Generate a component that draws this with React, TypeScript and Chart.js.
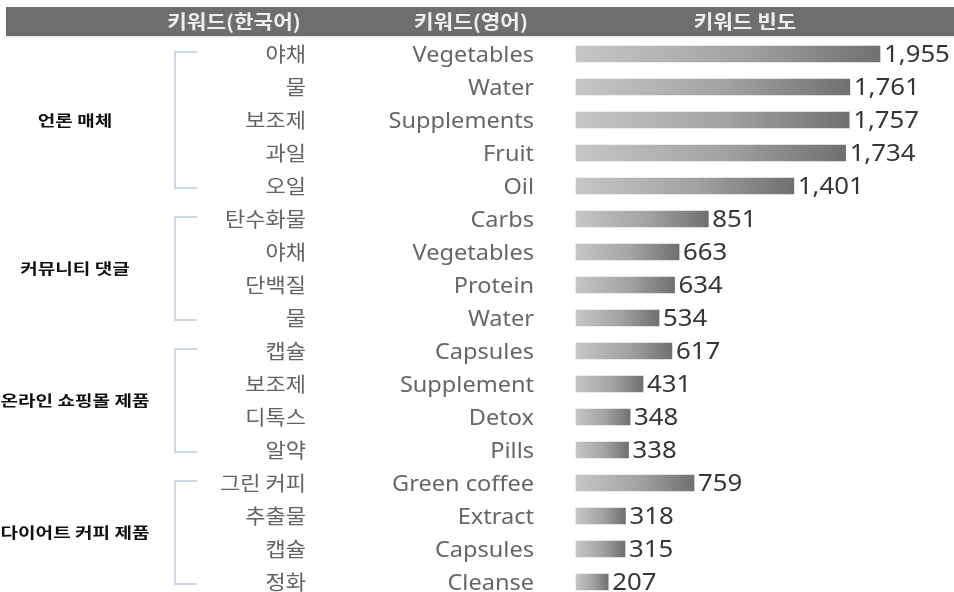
import React, { useEffect, useRef } from "react";
import { Chart, registerables } from "chart.js";

Chart.register(...registerables);

const headers = ["키워드(한국어)", "키워드(영어)", "키워드 빈도"];
const groups = ["언론 매체", "커뮤니티 댓글", "온라인 쇼핑몰 제품", "다이어트 커피 제품"];
const groupSizes = [5, 4, 4, 4];
const koreanLabels = [
  "야채", "물", "보조제", "과일", "오일",
  "탄수화물", "야채", "단백질", "물",
  "캡슐", "보조제", "디톡스", "알약",
  "그린 커피", "추출물", "캡슐", "정화",
];
const englishLabels = [
  "Vegetables", "Water", "Supplements", "Fruit", "Oil",
  "Carbs", "Vegetables", "Protein", "Water",
  "Capsules", "Supplement", "Detox", "Pills",
  "Green coffee", "Extract", "Capsules", "Cleanse",
];
const frequencies = [
  1955, 1761, 1757, 1734, 1401,
  851, 663, 634, 534,
  617, 431, 348, 338,
  759, 318, 315, 207,
];

const KR = '"Noto Sans CJK KR", "Noto Sans", sans-serif';
const EN = '"Noto Sans", "Noto Sans CJK KR", sans-serif';

function drawText(
  ctx: CanvasRenderingContext2D,
  text: string,
  x: number,
  y: number,
  align: CanvasTextAlign,
  font: string,
  color: string,
  sx: number
) {
  ctx.save();
  ctx.translate(x, y);
  ctx.scale(sx, 1);
  ctx.font = font;
  ctx.fillStyle = color;
  ctx.textAlign = align;
  ctx.textBaseline = "alphabetic";
  ctx.fillText(text, 0, 0);
  ctx.restore();
}

const tablePlugin = {
  id: "tablePlugin",
  afterDraw(chart: any) {
    const ctx: CanvasRenderingContext2D = chart.ctx;
    const xs = chart.scales.x;
    const ys = chart.scales.y;

    // header band
    ctx.save();
    ctx.fillStyle = "#6e6e6e";
    ctx.fillRect(6, 7, chart.width - 6, 29);
    ctx.fillStyle = "#e2e2e2";
    ctx.fillRect(6, 36, chart.width - 6, 1);
    ctx.restore();
    const headerX = [234, 471, 745];
    headers.forEach((h, i) => {
      drawText(ctx, h, headerX[i], 28.5, "center", `bold 19px ${KR}`, "#eeeeee", 1.12);
    });

    // rows
    frequencies.forEach((v, i) => {
      const y = ys.getPixelForValue(i);
      drawText(ctx, koreanLabels[i], 306, y + 7.5, "right", `20px ${KR}`, "#636363", 1.1);
      drawText(ctx, englishLabels[i], 534, y + 7.8, "right", `22px ${EN}`, "#666666", 1.07);
      const xe = xs.getPixelForValue(v);
      drawText(ctx, v.toLocaleString("en-US"), xe + 4, y + 8.2, "left", `23px ${EN}`, "#363636", 1.12);
    });

    // groups with brackets
    let start = 0;
    groups.forEach((g, gi) => {
      const end = start + groupSizes[gi] - 1;
      const yTop = ys.getPixelForValue(start) - 2;
      const yBot = ys.getPixelForValue(end) + 2;
      ctx.save();
      ctx.strokeStyle = "#bccde0";
      ctx.lineWidth = 1.5;
      ctx.beginPath();
      ctx.moveTo(197, yTop);
      ctx.lineTo(175, yTop);
      ctx.lineTo(175, yBot);
      ctx.lineTo(197, yBot);
      ctx.stroke();
      ctx.restore();
      const yc = (ys.getPixelForValue(start) + ys.getPixelForValue(end)) / 2;
      drawText(ctx, g, 75, yc + 5.5, "center", `bold 15px ${KR}`, "#111111", 1.27);
      start = end + 1;
    });
  },
};

export default function App() {
  const canvasRef = useRef<HTMLCanvasElement | null>(null);

  useEffect(() => {
    const canvas = canvasRef.current;
    if (!canvas) return;
    const chart = new Chart(canvas, {
      type: "bar",
      data: {
        labels: englishLabels,
        datasets: [
          {
            data: frequencies,
            barThickness: 16,
            borderWidth: 0,
            clip: false,
            backgroundColor: (c: any) => {
              const ch = c.chart;
              const xs = ch.scales && ch.scales.x;
              if (!xs || c.raw == null || !isFinite(xs.getPixelForValue(0))) return "#999999";
              const x0 = xs.getPixelForValue(0);
              const x1 = xs.getPixelForValue(c.raw);
              const g = ch.ctx.createLinearGradient(x0, 0, x1, 0);
              g.addColorStop(0, "#c6c6c6");
              g.addColorStop(0.55, "#a2a2a2");
              g.addColorStop(1, "#707070");
              return g;
            },
          },
        ],
      },
      options: {
        indexAxis: "y",
        responsive: false,
        animation: false,
        devicePixelRatio: 1,
        layout: { padding: { left: 576, right: 67, top: 54, bottom: 10 } },
        scales: {
          x: { type: "linear", min: 0, max: 2000, display: false },
          y: { type: "category", offset: false, display: false },
        },
        plugins: {
          legend: { display: false },
          tooltip: { enabled: false },
        },
      },
      plugins: [tablePlugin],
    } as any);
    return () => chart.destroy();
  }, []);

  return (
    <div style={{ position: "absolute", left: 0, top: 0, width: 954, height: 592, background: "#ffffff" }}>
      <canvas ref={canvasRef} width={954} height={592} style={{ display: "block" }} />
    </div>
  );
}
